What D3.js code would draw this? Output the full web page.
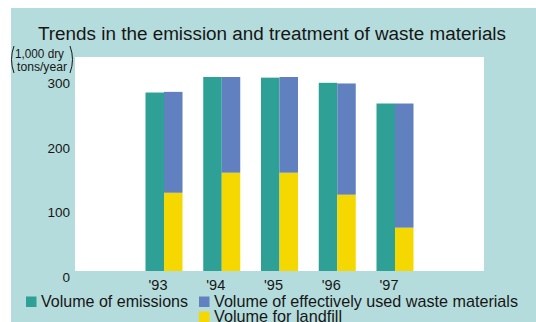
<!DOCTYPE html>
<html>
<head>
<meta charset="utf-8">
<script src="https://cdn.jsdelivr.net/npm/d3@7"></script>
<style>
  html, body { margin: 0; padding: 0; background: #ffffff; }
  svg { display: block; font-family: "Liberation Sans", Arial, Helvetica, sans-serif; }
</style>
</head>
<body>
<svg id="chart" width="536" height="322"></svg>
<script>
// Fiscal years shown on the axis
const years = ["'93", "'94", "'95", "'96", "'97"];
// Volumes, 1,000 dry tons per year
const emissions = [276, 300, 299, 291, 259];
const effectivelyUsed = [156, 148, 148, 172, 192];
const landfill = [121, 152, 152, 118, 67];
const yTicks = [0, 100, 200, 300];

const seriesNames = ["Volume of emissions", "Volume of effectively used waste materials", "Volume for landfill"];
const colors = { emit: "#2ea095", used: "#6180c0", fill: "#f5d800" };

const svg = d3.select("#chart");
const W = 536, H = 322;
const plot = { left: 75, right: 484, top: 57, bottom: 271 };
const ink = "#161616";

// Panel background
svg.append("rect").attr("x", 11).attr("y", 8).attr("width", W - 11).attr("height", H - 8)
  .attr("fill", "#b5dcdc");
svg.append("rect").attr("x", plot.left).attr("y", plot.top)
  .attr("width", plot.right - plot.left).attr("height", plot.bottom - plot.top)
  .attr("fill", "#ffffff");

// Title
svg.append("text").attr("x", 38).attr("y", 40)
  .attr("font-size", 18.8).attr("fill", ink)
  .attr("textLength", 468).attr("lengthAdjust", "spacingAndGlyphs")
  .text("Trends in the emission and treatment of waste materials");

// Unit label with tall parentheses
const unit = svg.append("g").attr("fill", ink).attr("font-size", 12.5);
unit.append("text").attr("x", 15).attr("y", 57.5)
  .attr("textLength", 49).attr("lengthAdjust", "spacingAndGlyphs").text("1,000 dry");
unit.append("text").attr("x", 17).attr("y", 71)
  .attr("textLength", 50).attr("lengthAdjust", "spacingAndGlyphs").text("tons/year");
svg.append("path").attr("d", "M14,46 Q9,59.5 14,73").attr("fill", "none").attr("stroke", ink).attr("stroke-width", 1);
svg.append("path").attr("d", "M70,46 Q75,59.5 70,73").attr("fill", "none").attr("stroke", ink).attr("stroke-width", 1);

// Scales
const x = d3.scaleBand().domain(years).range([plot.left, plot.right])
  .paddingInner(0.3593).paddingOuter(1.2207);
const xi = d3.scaleBand().domain(["emit", "stack"]).range([0, x.bandwidth()]);
const y = d3.scaleLinear().domain([0, 300]).range([plot.bottom, 77]);

// Bars
const rows = years.map((yr, i) => ({ yr, emit: emissions[i], used: effectivelyUsed[i], fill: landfill[i] }));
const groups = svg.append("g").selectAll("g").data(rows).join("g")
  .attr("transform", d => `translate(${x(d.yr)},0)`);

groups.append("rect").attr("x", xi("emit")).attr("width", xi.bandwidth())
  .attr("y", d => y(d.emit)).attr("height", d => y(0) - y(d.emit)).attr("fill", colors.emit);
groups.append("rect").attr("x", xi("stack")).attr("width", xi.bandwidth())
  .attr("y", d => y(d.fill)).attr("height", d => y(0) - y(d.fill)).attr("fill", colors.fill);
groups.append("rect").attr("x", xi("stack")).attr("width", xi.bandwidth())
  .attr("y", d => y(d.fill + d.used)).attr("height", d => y(d.fill) - y(d.fill + d.used)).attr("fill", colors.used);

// Y axis
const yAxis = svg.append("g").attr("transform", `translate(${plot.left},0)`)
  .call(d3.axisLeft(y).tickValues(yTicks).tickSize(0).tickPadding(5).tickFormat(d3.format("d")));
yAxis.select(".domain").remove();
yAxis.selectAll("text").attr("font-size", 13.5).attr("fill", ink)
  .attr("font-family", "Liberation Sans, Arial, sans-serif").attr("dy", "0.78em");

// X axis
const xAxis = svg.append("g").attr("transform", `translate(0,${plot.bottom})`)
  .call(d3.axisBottom(x).tickSize(0).tickPadding(9));
xAxis.select(".domain").remove();
xAxis.selectAll("text").attr("font-size", 14.5).attr("fill", ink)
  .attr("font-family", "Liberation Sans, Arial, sans-serif").attr("dx", -6);

// Legend
const legend = [
  { name: seriesNames[0], color: colors.emit, x: 26, y: 307, len: 147 },
  { name: seriesNames[1], color: colors.used, x: 199, y: 307, len: 304 },
  { name: seriesNames[2], color: colors.fill, x: 199, y: 322, len: 128 }
];
const lg = svg.append("g").selectAll("g").data(legend).join("g")
  .attr("transform", d => `translate(${d.x},${d.y})`);
lg.append("rect").attr("x", 0).attr("y", -10.5).attr("width", 10.5).attr("height", 10.5).attr("fill", d => d.color);
lg.append("text").attr("x", 15).attr("y", 0).attr("font-size", 15.9).attr("fill", ink)
  .attr("textLength", d => d.len).attr("lengthAdjust", "spacingAndGlyphs").text(d => d.name);
</script>
</body>
</html>
